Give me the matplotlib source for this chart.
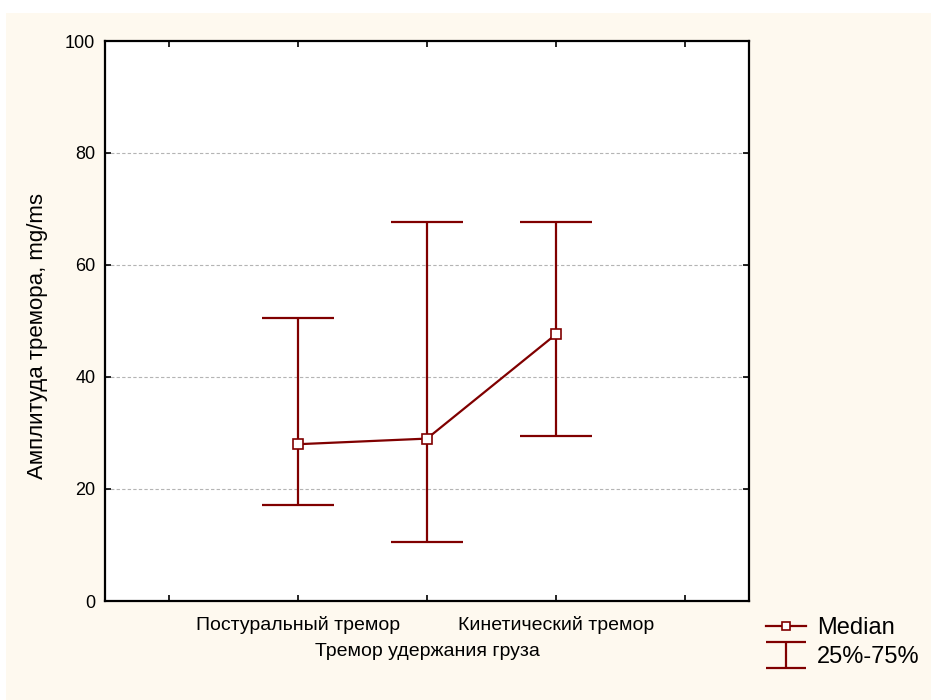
import numpy as np
import matplotlib
matplotlib.use("Agg")
import matplotlib.pyplot as plt
from matplotlib.lines import Line2D
from matplotlib.path import Path
from matplotlib.patches import Rectangle

plt.rcParams['font.family'] = ['Liberation Sans', 'DejaVu Sans']

# data
categories = ["Постуральный тремор", "Тремор удержания груза", "Кинетический тремор"]
medians = [28.0, 29.0, 47.6]
q25 = [17.1, 10.5, 29.5]
q75 = [50.5, 67.6, 67.6]
positions = [2, 3, 4]

dark_red = "#800000"

fig = plt.figure(figsize=(9.31, 7.0), dpi=100, facecolor="white")
# cream panel behind everything
fig.patches.append(Rectangle((6 / 931, 0), 1, 1 - 13 / 700, transform=fig.transFigure,
                             facecolor="#fef9ef", edgecolor="none", zorder=-10))

ax = fig.add_axes([105 / 931, 1 - 601 / 700, (749 - 105) / 931, (601 - 41) / 700])
ax.set_facecolor("white")

med = np.array(medians)
lo = med - np.array(q25)
hi = np.array(q75) - med
ax.errorbar(positions, medians, yerr=[lo, hi], fmt="none", ecolor=dark_red,
            elinewidth=1.6, capsize=26, capthick=1.6, zorder=3)
ax.plot(positions, medians, color=dark_red, lw=1.6, marker="s", ms=6.5,
        mfc="white", mec=dark_red, mew=1.2, zorder=4)

ax.set_xlim(0.5, 5.5)
ax.set_ylim(0, 100)
ax.set_xticks([1, 2, 3, 4, 5])
ax.set_xticklabels(["", categories[0], categories[1], categories[2], ""])
ax.set_yticks([0, 20, 40, 60, 80, 100])
ax.tick_params(axis="both", direction="in", length=4, width=1.2, top=True, right=True,
               colors="black")
ax.tick_params(axis="x", pad=11, labelsize=14)
ax.tick_params(axis="y", pad=7, labelsize=13)
# stagger the middle category label below the others
ax.xaxis.get_major_ticks()[2].set_pad(30)
for sp in ax.spines.values():
    sp.set_linewidth(1.6)

for yv in [20, 40, 60, 80]:
    ax.axhline(yv, color="#b4b4b4", lw=0.8, ls=(0, (3, 2)), zorder=1)

ax.set_ylabel("Амплитуда тремора, mg/ms", fontsize=16)
ax.yaxis.set_label_coords(-0.088, 0.473)

# legend
ibeam = Path([(-1.6, -1), (1.6, -1), (0, -1), (0, 1), (-1.6, 1), (1.6, 1)],
             [Path.MOVETO, Path.LINETO, Path.MOVETO, Path.LINETO, Path.MOVETO, Path.LINETO])
h_med = Line2D([], [], color=dark_red, lw=1.6, marker="s", ms=6, mfc="white",
               mec=dark_red, mew=1.2)
h_iqr = Line2D([], [], color=dark_red, ls="none", marker=ibeam, ms=29, mew=1.6)
fig.legend([h_med, h_iqr], ["Median", "25%-75%"], loc="upper left",
           bbox_to_anchor=(745 / 931, 1 - 596 / 700), frameon=False, fontsize=17,
           handlelength=1.7, handletextpad=0.45, labelspacing=0.3)

fig.savefig("out.png", dpi=100, facecolor=fig.get_facecolor())
